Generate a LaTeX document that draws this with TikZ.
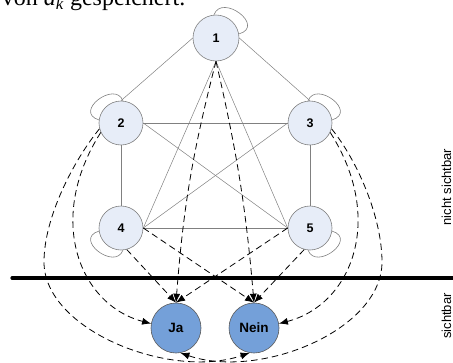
\documentclass[tikz,border=0pt]{standalone}
\usepackage{fontspec}
\setmainfont{Liberation Serif}
\setsansfont{Liberation Sans}
\usetikzlibrary{arrows.meta}
\definecolor{hid}{RGB}{231,237,248}
\definecolor{vis}{RGB}{116,160,217}
\definecolor{edgegray}{RGB}{128,128,128}
\begin{document}
\begin{tikzpicture}[x=1pt,y=-1pt,
  hidden/.style={circle,draw=edgegray,fill=hid,line width=0.6pt,minimum size=44pt,inner sep=0pt,font=\sffamily\bfseries\fontsize{12.5}{14}\selectfont},
  visible/.style={circle,draw=black!65,fill=vis,line width=0.6pt,minimum size=50pt,inner sep=0pt,font=\sffamily\bfseries\fontsize{13.5}{15}\selectfont},
  solidlink/.style={draw=edgegray,line width=0.5pt},
  looplink/.style={draw=edgegray,line width=0.6pt},
  dashlink/.style={draw=black,line width=0.8pt,dash pattern=on 6.5pt off 4pt,-{Latex[length=9pt,width=7pt]}},
  sidelabel/.style={rotate=90,anchor=base,inner sep=0pt,font=\sffamily\fontsize{13}{15}\selectfont}
]
\useasboundingbox (0,0) rectangle (453,362);

% top text (cut off)
\node[anchor=base east,inner sep=0pt,font=\fontsize{24}{28}\selectfont] (toptext) at (185.5,5.5) {von \textit{d}\textsubscript{\textit{k}} gespeichert.};

% nodes
\node[hidden,minimum size=46pt] (n1) at (216,38) {1};
\node[hidden] (n2) at (121,123) {2};
\node[hidden] (n3) at (310,123) {3};
\node[hidden] (n4) at (121,228) {4};
\node[hidden] (n5) at (310,228) {5};
\node[visible] (ja) at (176,328) {Ja};
\node[visible] (nein) at (254,328) {Nein};

% divider
\draw[line width=3.2pt,line cap=round] (12,278) -- (470,278);
\node[sidelabel] (lblhidden) at (451,187) {nicht sichtbar};
\node[sidelabel] (lblvisible) at (451,316) {sichtbar};

% complete graph among hidden states
\draw[solidlink] (n1.west) -- (n2.north);
\draw[solidlink] (n1.east) -- (n3.north);
\draw[solidlink] (n1.south) -- (n4.east);
\draw[solidlink] (n1.south) -- (n5.west);
\draw[solidlink] (n2.east) -- (n3.west);
\draw[solidlink] (n2.south) -- (n4.north);
\draw[solidlink] (n2.east) -- (n5.west);
\draw[solidlink] (n3.west) -- (n4.east);
\draw[solidlink] (n3.south) -- (n5.north);
\draw[solidlink] (n4.east) -- (n5.west);

% self loops
\draw[looplink] (n1.95) .. controls (222,-7) and (266,26) .. (n1.10);
\draw[looplink] (n2.85) .. controls (115,80) and (73,112) .. (n2.172);
\draw[looplink] (n3.95) .. controls (316,80) and (358,112) .. (n3.8);
\draw[looplink] (n4.275) .. controls (115,271) and (73,239) .. (n4.188);
\draw[looplink] (n5.265) .. controls (316,271) and (358,239) .. (n5.352);

% emissions
\draw[dashlink] (n1.south) to[bend right=5] (ja.north);
\draw[dashlink] (n1.south) to[bend left=4] (nein.north);
\draw[dashlink] (n4.east) -- (nein.north);
\draw[dashlink] (n4.285) -- (ja.north);
\draw[dashlink] (n5.west) -- (ja.north);
\draw[dashlink] (n5.255) -- (nein.north);
\draw[dashlink] (n2.205) .. controls (45,220) and (80,305) .. (ja.170);
\draw[dashlink] (n3.335) .. controls (386,220) and (351,305) .. (nein.10);
\draw[dashlink] (n2.195) .. controls (74,160) and (44,217) .. (44,262) .. controls (44,330) and (170,380) .. (nein.260);
\draw[dashlink] (n3.345) .. controls (357,160) and (382,217) .. (382,262) .. controls (382,330) and (260,380) .. (ja.280);
\end{tikzpicture}
\end{document}
